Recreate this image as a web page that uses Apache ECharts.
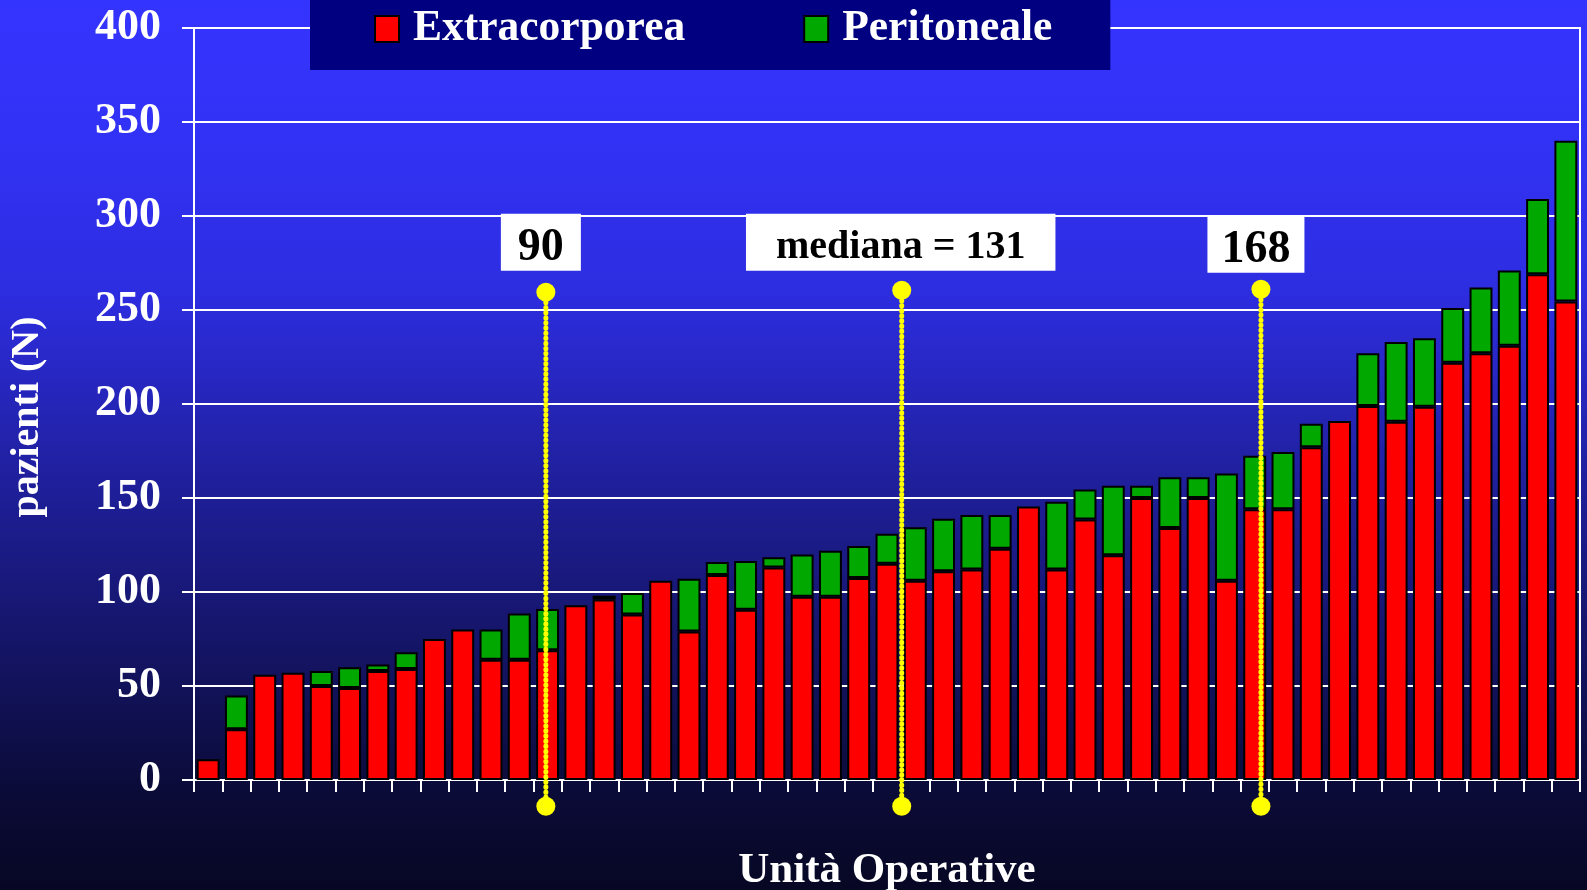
<!DOCTYPE html>
<html>
<head>
<meta charset="utf-8">
<script src="https://cdn.jsdelivr.net/npm/echarts@6/dist/echarts.min.js"></script>
<style>
html,body{margin:0;padding:0;background:#060622;}
#chart{width:1587px;height:890px;}
</style>
</head>
<body>
<div id="chart"></div>
<script>
// ---- data ----
var units = [];
for (var i = 1; i <= 49; i++) units.push(String(i));
var extracorporea = [11,27,56,57,50,49,58,59,75,80,64,64,69,93,96,88,106,79,109,90.5,113,97.5,97.5,107.5,115,106,111,112,123,145.5,112,138.5,119.5,150,134,150,106,144,144,177,191,199,190.5,198.5,222,227,231,269,254.5];
var peritoneale   = [0,18,0,0,8,11,3.5,9,0,0,16,24.5,22,0,2,11.5,0,28,7,26,5.5,22.5,24.5,17,16,28.5,28,29,18,0,36,16,37,6.5,27,11,57,28.5,30.5,12.5,0,28,42.5,36.5,29,35,40,40,85.5];
var yTicks = [0,50,100,150,200,250,300,350,400];
// quartile markers (position on unit axis, top value, bottom value, label)
var markerX = [12.44, 25.02, 37.72];
var markerTop = [259.5, 260.5, 261];
var markerBottom = [-14, -14, -14];
var markerLabels = ['90', 'mediana = 131', '168'];

var FONT = "'Liberation Serif','Times New Roman',serif";

var chart = echarts.init(document.getElementById('chart'), null, {renderer: 'canvas'});

var labelStyles = [
  {fontSize: 46, lineHeight: 46, padding: [11, 17, 0, 17], distance: 12, offset: [-5, 0]},
  {fontSize: 40, lineHeight: 40, padding: [14, 30, 3, 30], distance: 10, offset: [-1, 0]},
  {fontSize: 46, lineHeight: 46, padding: [11, 14, 0, 14], distance: 7, offset: [-5, 0]}
];

var markerSeries = markerX.map(function (x, k) {
  var ls = labelStyles[k];
  return {
    type: 'line',
    xAxisIndex: 1,
    yAxisIndex: 0,
    clip: false,
    z: 10,
    symbol: 'circle',
    symbolSize: 19,
    showSymbol: true,
    silent: true,
    itemStyle: {color: '#ffff00'},
    lineStyle: {color: '#ffff00', width: 5, type: [0.5, 4.6], cap: 'round'},
    data: [
      {
        value: [x, markerTop[k]],
        label: {
          show: true,
          position: 'top',
          distance: ls.distance,
          offset: ls.offset,
          formatter: markerLabels[k],
          color: '#000',
          fontFamily: FONT,
          fontWeight: 'bold',
          fontSize: ls.fontSize,
          lineHeight: ls.lineHeight,
          backgroundColor: '#ffffff',
          padding: ls.padding
        }
      },
      {value: [x, markerBottom[k]]}
    ]
  };
});

var option = {
  animation: false,
  backgroundColor: {
    type: 'linear', x: 0, y: 0, x2: 0, y2: 1,
    colorStops: [
      {offset: 0, color: '#3434ff'},
      {offset: 0.15, color: '#3232f6'},
      {offset: 0.33, color: '#2d2de0'},
      {offset: 0.56, color: '#1e1e96'},
      {offset: 0.89, color: '#0b0b38'},
      {offset: 1, color: '#070724'}
    ]
  },
  textStyle: {fontFamily: FONT},
  legend: {
    data: ['Extracorporea', 'Peritoneale'],
    left: 310,
    top: 0,
    padding: [2, 58, 14, 64],
    backgroundColor: '#000080',
    itemGap: 118,
    itemWidth: 24,
    itemHeight: 26,
    icon: 'rect',
    selectedMode: false,
    textStyle: {
      color: '#ffffff',
      fontFamily: FONT,
      fontWeight: 'bold',
      fontSize: 43.5,
      lineHeight: 44,
      padding: [10, 0, 0, 9]
    }
  },
  grid: {
    left: 194,
    right: 7,
    top: 28,
    bottom: 110,
    show: true,
    borderColor: '#ffffff',
    borderWidth: 2,
    containLabel: false,
    outerBoundsMode: 'none'
  },
  xAxis: [
    {
      type: 'category',
      data: units,
      boundaryGap: true,
      name: 'Unità Operative',
      nameLocation: 'middle',
      nameGap: 69,
      nameTextStyle: {color: '#ffffff', fontFamily: FONT, fontWeight: 'bold', fontSize: 43},
      axisLine: {show: true, lineStyle: {color: '#ffffff', width: 2}},
      axisTick: {show: true, interval: 0, alignWithLabel: false, length: 12, lineStyle: {color: '#ffffff', width: 2}},
      axisLabel: {show: false, interval: 0},
      splitLine: {show: false}
    },
    {
      type: 'value',
      min: 0,
      max: 49,
      show: false,
      splitLine: {show: false}
    }
  ],
  yAxis: {
    type: 'value',
    min: 0,
    max: 400,
    interval: 50,
    name: 'pazienti (N)',
    nameLocation: 'middle',
    nameGap: 146,
    nameTextStyle: {color: '#ffffff', fontFamily: FONT, fontWeight: 'bold', fontSize: 40, padding: [0, 26, 0, 0]},
    axisLine: {show: true, lineStyle: {color: '#ffffff', width: 2}},
    axisTick: {show: true, length: 12, lineStyle: {color: '#ffffff', width: 2}},
    axisLabel: {
      color: '#ffffff', fontFamily: FONT, fontWeight: 'bold', fontSize: 44, margin: 33,
      formatter: function (v) { return yTicks.indexOf(v) >= 0 ? String(v) : ''; }
    },
    splitLine: {show: true, lineStyle: {color: '#ffffff', width: 2}}
  },
  series: [
    {
      name: 'Extracorporea',
      type: 'bar',
      stack: 'tot',
      barWidth: '81%',
      itemStyle: {color: '#ff0000', borderColor: '#000000', borderWidth: 2},
      data: extracorporea
    },
    {
      name: 'Peritoneale',
      type: 'bar',
      stack: 'tot',
      barWidth: '81%',
      itemStyle: {color: '#00a800', borderColor: '#000000', borderWidth: 2},
      data: peritoneale.map(function (v) { return v === 0 ? '-' : v; })
    }
  ].concat(markerSeries)
};

chart.setOption(option);
</script>
</body>
</html>
